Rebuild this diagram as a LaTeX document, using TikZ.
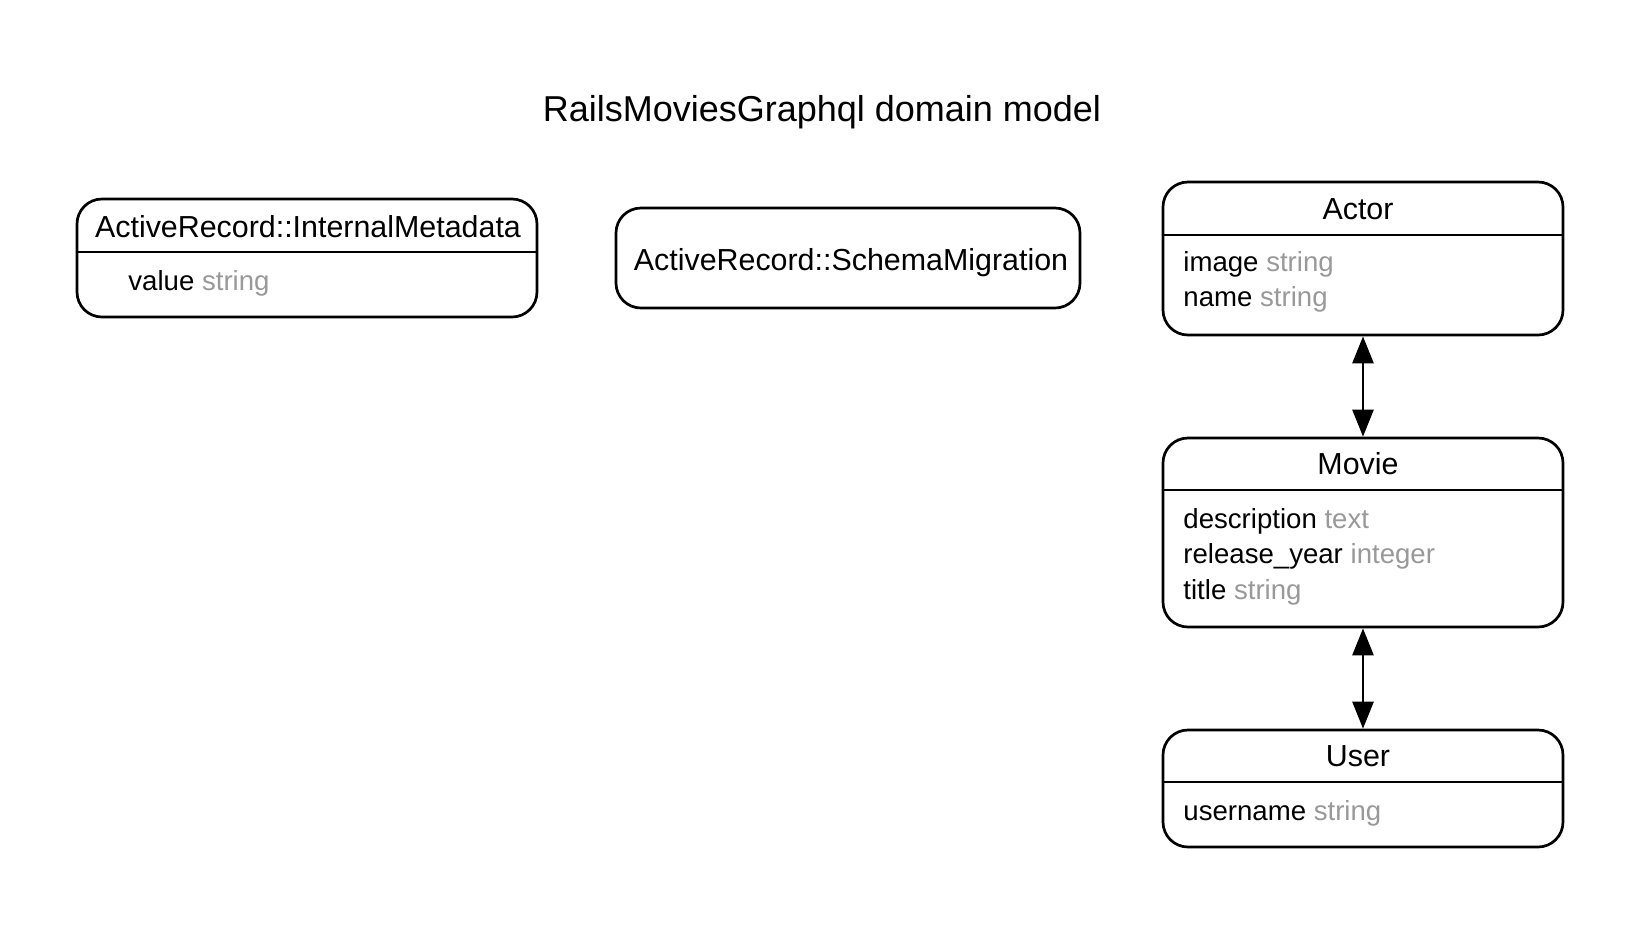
\documentclass[tikz,border=0pt]{standalone}
\usepackage{fontspec}
\setmainfont{Liberation Sans}
\usetikzlibrary{arrows.meta}
\definecolor{attrgray}{RGB}{153,153,153}
\tikzset{
  entity/.style={draw=black, line width=1.35pt, rounded corners=12.5pt, fill=white, inner sep=0pt},
  etitle/.style={anchor=base, inner sep=0pt, font=\fontsize{15.2}{18}\selectfont},
  attr/.style={anchor=base west, inner sep=0pt, font=\fontsize{13.8}{16}\selectfont},
  divider/.style={line width=1.35pt},
  rel/.style={line width=1.35pt, {Triangle[length=13.5pt,width=10.5pt]}-{Triangle[length=13.5pt,width=10.5pt]}},
  gtitle/.style={anchor=base, inner sep=0pt, font=\fontsize{18}{22}\selectfont}
}
\newcommand{\typ}[1]{\textcolor{attrgray}{#1}}
\begin{document}
\begin{tikzpicture}[x=0.5pt,y=-0.5pt]
\useasboundingbox[fill=white] (0,0) rectangle (1645,928);
\node[gtitle] (title) at (822,121) {RailsMoviesGraphql domain model};

% InternalMetadata
\node[entity, minimum width=230pt, minimum height=59pt] (im) at (307,258) {};
\draw[divider] (im.west |- 0,252) -- (im.east |- 0,252);
\node[etitle] (imt) at (308,237) {ActiveRecord::InternalMetadata};
\node[attr] (ima) at (128,290) {value \typ{string}};

% SchemaMigration
\node[entity, minimum width=232pt, minimum height=50pt] (sm) at (848,258) {};
\node[etitle] (smt) at (851,270) {ActiveRecord::SchemaMigration};

% Actor
\node[entity, minimum width=200pt, minimum height=76.5pt] (actor) at (1363,258.5) {};
\draw[divider] (actor.west |- 0,235) -- (actor.east |- 0,235);
\node[etitle] (actort) at (1358,219) {Actor};
\node[attr] (actora1) at (1183,271) {image \typ{string}};
\node[attr] (actora2) at (1183,306) {name \typ{string}};

% Movie
\node[entity, minimum width=200pt, minimum height=94.5pt] (movie) at (1363,532.5) {};
\draw[divider] (movie.west |- 0,490) -- (movie.east |- 0,490);
\node[etitle] (moviet) at (1358,474) {Movie};
\node[attr] (moviea1) at (1183,528) {description \typ{text}};
\node[attr] (moviea2) at (1183,563) {release\_year \typ{integer}};
\node[attr] (moviea3) at (1183,599) {title \typ{string}};

% User
\node[entity, minimum width=200pt, minimum height=58.5pt] (user) at (1363,788.5) {};
\draw[divider] (user.west |- 0,782) -- (user.east |- 0,782);
\node[etitle] (usert) at (1358,766) {User};
\node[attr] (usera1) at (1183,820) {username \typ{string}};

% Relations
\draw[rel] (actor.south) -- (movie.north);
\draw[rel] (movie.south) -- (user.north);
\end{tikzpicture}
\end{document}
